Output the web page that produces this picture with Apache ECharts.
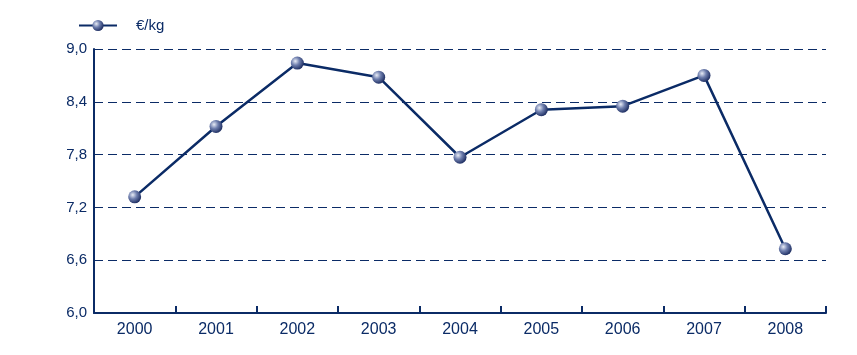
<!DOCTYPE html>
<html>
<head>
<meta charset="utf-8">
<script src="https://cdn.jsdelivr.net/npm/echarts@6/dist/echarts.min.js"></script>
<style>
  html, body { margin: 0; padding: 0; background: #fff; }
  #chart { width: 857px; height: 355px; }
</style>
</head>
<body>
<div id="chart"></div>
<script>
var years = ["2000", "2001", "2002", "2003", "2004", "2005", "2006", "2007", "2008"];
var pricePerKg = [7.32, 8.12, 8.84, 8.68, 7.77, 8.31, 8.35, 8.70, 6.73];
var seriesName = "€/kg";

var navy = "#0b2b66";

var ball = new echarts.graphic.RadialGradient(0.35, 0.35, 0.7, [
  { offset: 0, color: "#e8ecf6" },
  { offset: 0.45, color: "#6f7fae" },
  { offset: 1, color: "#1a2a5e" }
]);

var option = {
  animation: false,
  legend: {
    left: 73,
    top: 13,
    itemWidth: 38,
    itemHeight: 14,
    textStyle: { color: navy, fontSize: 15, fontFamily: "Liberation Sans", padding: [0, 0, 0, 14] },
    data: [seriesName]
  },
  grid: { left: 94, right: 31, top: 49, bottom: 42 },
  xAxis: {
    type: "category",
    data: years,
    boundaryGap: true,
    axisLine: { lineStyle: { color: navy, width: 2 } },
    axisTick: { show: true, inside: true, length: 7, lineStyle: { color: navy, width: 2 } },
    axisLabel: { color: navy, fontSize: 16, fontFamily: "Liberation Sans", margin: 9 }
  },
  yAxis: {
    type: "value",
    min: 6.0,
    max: 9.0,
    interval: 0.6,
    axisLine: { show: true, lineStyle: { color: navy, width: 2 } },
    axisTick: { show: false },
    axisLabel: {
      color: navy,
      fontSize: 15,
      fontFamily: "Liberation Sans",
      margin: 7,
      formatter: function (v) { return v.toFixed(1).replace(".", ","); }
    },
    splitLine: { lineStyle: { color: navy, type: [9, 5], width: 1 } }
  },
  series: [{
    name: seriesName,
    type: "line",
    data: pricePerKg,
    symbol: "circle",
    symbolSize: 13,
    lineStyle: { color: navy, width: 2.5 },
    itemStyle: { color: ball, borderWidth: 0 }
  }]
};

var myChart = echarts.init(document.getElementById("chart"), null, { renderer: "canvas" });
myChart.setOption(option);
</script>
</body>
</html>
